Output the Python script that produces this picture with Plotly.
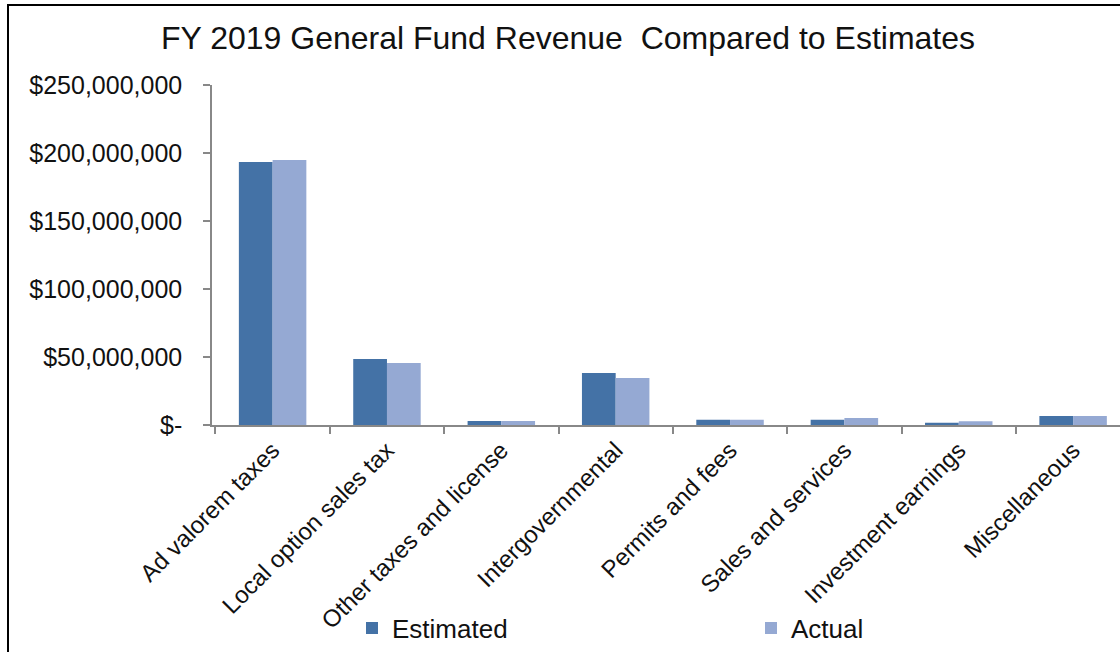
import plotly.graph_objects as go

categories = ["Ad valorem taxes", "Local option sales tax", "Other taxes and license",
              "Intergovernmental", "Permits and fees", "Sales and services",
              "Investment earnings", "Miscellaneous"]
estimated = [193_400_000, 48_500_000, 3_000_000, 38_200_000, 3_800_000, 3_800_000, 1_600_000, 6_700_000]
actual = [194_800_000, 45_600_000, 2_900_000, 34_600_000, 3_800_000, 5_100_000, 2_700_000, 6_700_000]
y_ticks = [0, 50_000_000, 100_000_000, 150_000_000, 200_000_000, 250_000_000]
y_tick_labels = ["$-", "$50,000,000", "$100,000,000", "$150,000,000", "$200,000,000", "$250,000,000"]

W, H = 1120, 652
L, T, B = 212, 85, 425  # plot area pixels
PW, PH = W - L, B - T

def px(x):
    return (x - L) / PW

def py(y):
    return (B - y) / PH

FONT = "Liberation Sans, Arial, sans-serif"

fig = go.Figure()
fig.add_bar(x=categories, y=estimated, name="Estimated", marker=dict(color="#4472A6", line=dict(width=0)))
fig.add_bar(x=categories, y=actual, name="Actual", marker=dict(color="#95A9D3", line=dict(width=0)))

fig.update_layout(
    width=W, height=H,
    margin=dict(l=L, r=0, t=T, b=H - B, autoexpand=False),
    paper_bgcolor="white", plot_bgcolor="white",
    barmode="group", bargap=0.41, bargroupgap=0,
    title=dict(text="FY 2019 General Fund Revenue  Compared to Estimates",
               x=568 / W, xanchor="center", y=1 - 38 / H, yanchor="middle",
               font=dict(family=FONT, size=32, color="#111")),
    font=dict(family=FONT, color="#111"),
    showlegend=True,
    legend=dict(orientation="h", x=px(352), xanchor="left", y=py(628), yanchor="middle",
                entrywidth=354, entrywidthmode="pixels",
                font=dict(family=FONT, size=26, color="#111"), bgcolor="rgba(0,0,0,0)"),
    shapes=[dict(type="rect", xref="paper", yref="paper",
                 x0=px(8), x1=px(1130), y0=py(660), y1=py(5),
                 line=dict(color="black", width=2), fillcolor="rgba(0,0,0,0)", layer="above")],
)

fig.update_xaxes(
    range=[-0.53, 7.41], tickangle=-45, tickson="boundaries",
    ticks="outside", ticklen=7, tickcolor="#888", tickwidth=1.5,
    showline=True, linecolor="#888", linewidth=1.5,
    tickfont=dict(family=FONT, size=24, color="#111"), showgrid=False,
)
fig.update_yaxes(
    range=[0, 250_000_000], tickvals=y_ticks, ticktext=y_tick_labels,
    ticks="outside", ticklen=7, tickcolor="#888", tickwidth=1.5,
    showline=True, linecolor="#888", linewidth=1.5, showgrid=False, zeroline=False,
    ticklabelstandoff=16,
    tickfont=dict(family=FONT, size=25, color="#111"),
)

fig.write_html("out.html")
